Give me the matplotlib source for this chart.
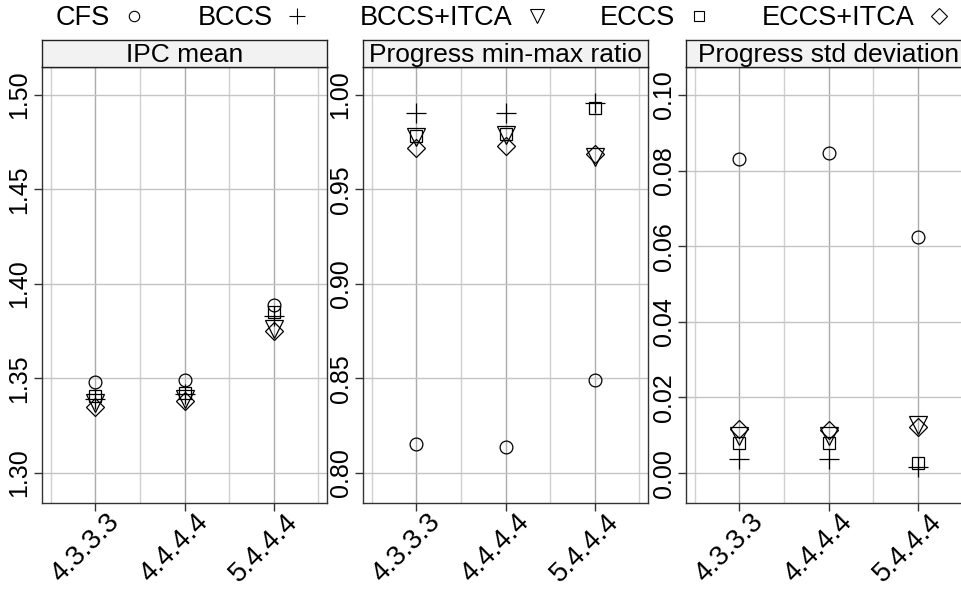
import matplotlib
matplotlib.use("Agg")
import matplotlib.pyplot as plt
from matplotlib.lines import Line2D
from matplotlib.transforms import blended_transform_factory, ScaledTranslation

plt.rcParams['font.family'] = ['Liberation Sans', 'DejaVu Sans']

categories = ["4.3.3.3", "4.4.4.4", "5.4.4.4"]
series = ["CFS", "BCCS", "BCCS+ITCA", "ECCS", "ECCS+ITCA"]
panel_titles = ["IPC mean", "Progress min-max ratio", "Progress std deviation"]

ipc_cfs = [1.348, 1.349, 1.389]
ipc_bccs = [1.339, 1.3415, 1.383]
ipc_bccs_itca = [1.337, 1.339, 1.376]
ipc_eccs = [1.3405, 1.342, 1.385]
ipc_eccs_itca = [1.335, 1.3378, 1.375]

mm_cfs = [0.8154, 0.8138, 0.849]
mm_bccs = [0.9904, 0.9904, 0.9956]
mm_bccs_itca = [0.978, 0.979, 0.967]
mm_eccs = [0.9785, 0.9795, 0.993]
mm_eccs_itca = [0.9718, 0.973, 0.9688]

sd_cfs = [0.0831, 0.0846, 0.0624]
sd_bccs = [0.0037, 0.0037, 0.0016]
sd_bccs_itca = [0.0099, 0.0098, 0.0128]
sd_eccs = [0.0079, 0.0079, 0.0026]
sd_eccs_itca = [0.0116, 0.0113, 0.0123]

yticks = [
    [1.30, 1.35, 1.40, 1.45, 1.50],
    [0.80, 0.85, 0.90, 0.95, 1.00],
    [0.00, 0.02, 0.04, 0.06, 0.08, 0.10],
]
ylims = [(1.284, 1.5148), (0.784, 1.0148), (-0.0079, 0.1074)]

panels = [
    [ipc_cfs, ipc_bccs, ipc_bccs_itca, ipc_eccs, ipc_eccs_itca],
    [mm_cfs, mm_bccs, mm_bccs_itca, mm_eccs, mm_eccs_itca],
    [sd_cfs, sd_bccs, sd_bccs_itca, sd_eccs, sd_eccs_itca],
]

markers = ['o', '+', 'v', 's', 'D']
msizes = [9.2, 14, 12.5, 9.0, 9.6]
leg_msizes = [7.5, 12, 10, 7.5, 8.5]

W, H = 961, 591
fig = plt.figure(figsize=(W / 100, H / 100), dpi=100)

lefts = [42, 363, 686]
pw = 285
top_px, bot_px = 67, 503
strip_h = 27

x = list(range(1, len(categories) + 1))
for i in range(3):
    l = lefts[i]
    ax = fig.add_axes([l / W, 1 - bot_px / H, pw / W, (bot_px - top_px) / H])
    ax.set_xlim(0.4, 3.6)
    ax.set_ylim(*ylims[i])
    for gx in [0.5, 1.5, 2.5, 3.5]:
        ax.axvline(gx, color='#d0d0d0', lw=1.0, zorder=0)
    for gx in x:
        ax.axvline(gx, color='#ababab', lw=1.0, zorder=0)
    for gy in yticks[i]:
        ax.axhline(gy, color='#c4c4c4', lw=1.0, zorder=0)
    for s in range(len(series)):
        ax.plot(x, panels[i][s], linestyle='none', marker=markers[s],
                markersize=msizes[s], markerfacecolor='none',
                markeredgecolor='black', markeredgewidth=0.9, zorder=3)
    ax.set_xticks(x)
    ax.set_xticklabels([])
    tr = blended_transform_factory(ax.transData, ax.transAxes)
    for xi, lab in zip(x, categories):
        off = ScaledTranslation(-10 / 100, -45 / 100, fig.dpi_scale_trans)
        ax.text(xi, 0, lab, transform=tr + off, rotation=45, ha='center',
                va='center', rotation_mode='anchor', fontsize=20)
    ax.set_yticks(yticks[i])
    ax.set_yticklabels([f"{v:.2f}" for v in yticks[i]], rotation=90,
                       va='center', fontsize=18)
    ax.tick_params(axis='both', length=6, width=1, color='#333333', pad=1.5)
    for sp in ax.spines.values():
        sp.set_color('#333333')
        sp.set_linewidth(1.0)
    sax = fig.add_axes([l / W, 1 - top_px / H, pw / W, strip_h / H])
    sax.set_xticks([])
    sax.set_yticks([])
    sax.set_facecolor('#f2f2f2')
    for sp in sax.spines.values():
        sp.set_color('#222222')
        sp.set_linewidth(1.0)
    sax.text(0.5, 0.45, panel_titles[i], ha='center', va='center',
             fontsize=19, transform=sax.transAxes)

handles = [Line2D([], [], linestyle='none', marker=markers[s],
                  markersize=leg_msizes[s], markerfacecolor='none',
                  markeredgecolor='black', markeredgewidth=0.8)
           for s in range(len(series))]
fig.legend(handles, series, loc='center', bbox_to_anchor=(503 / W, 1 - 18 / H),
           ncol=5, frameon=False, markerfirst=False, fontsize=19.5,
           handlelength=0.8, handletextpad=0.5, columnspacing=1.92,
           borderpad=0, borderaxespad=0)

fig.savefig("out.png", dpi=100)
